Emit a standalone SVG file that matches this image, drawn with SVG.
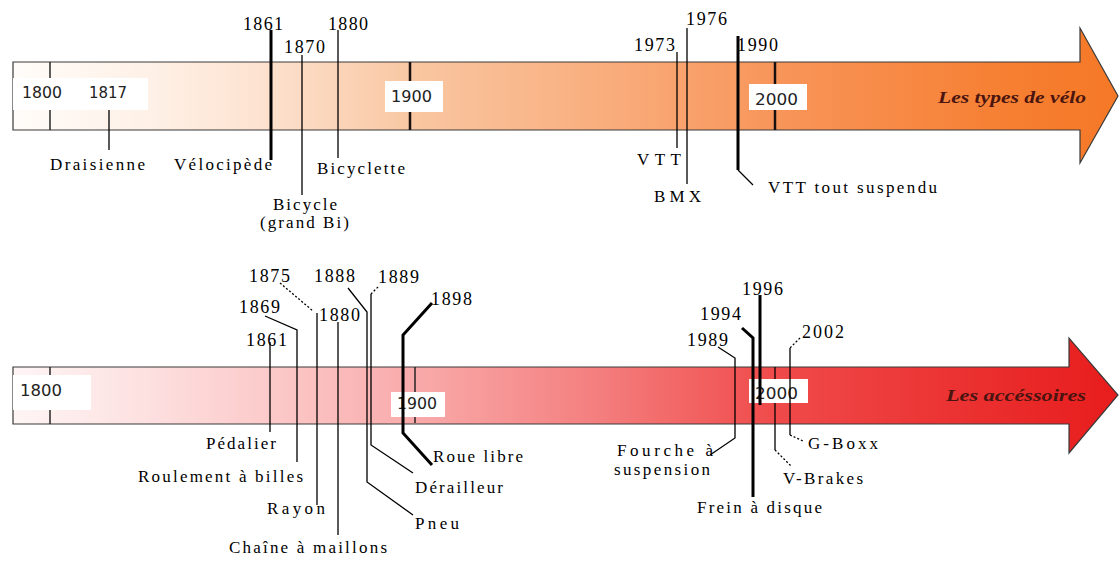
<svg xmlns="http://www.w3.org/2000/svg" width="1119" height="561" viewBox="0 0 1119 561">
<defs>
<linearGradient id="gTop" gradientUnits="userSpaceOnUse" x1="13" y1="0" x2="1119" y2="0">
<stop offset="0" stop-color="#fffcf9"/>
<stop offset="0.12" stop-color="#fef1e7"/>
<stop offset="0.22" stop-color="#fde3d1"/>
<stop offset="0.36" stop-color="#f9c7a2"/>
<stop offset="0.53" stop-color="#f9ae7e"/>
<stop offset="0.69" stop-color="#f8955a"/>
<stop offset="0.9" stop-color="#f67f32"/>
<stop offset="1" stop-color="#f57826"/>
</linearGradient>
<linearGradient id="gBot" gradientUnits="userSpaceOnUse" x1="13" y1="0" x2="1119" y2="0">
<stop offset="0" stop-color="#fff5f5"/>
<stop offset="0.12" stop-color="#fde0e0"/>
<stop offset="0.23" stop-color="#fccaca"/>
<stop offset="0.36" stop-color="#f9abab"/>
<stop offset="0.53" stop-color="#f47e7e"/>
<stop offset="0.69" stop-color="#f04a4a"/>
<stop offset="0.9" stop-color="#ea2b2b"/>
<stop offset="1" stop-color="#e81c1c"/>
</linearGradient>
<style>
.arrow{stroke:#3a3a3a;stroke-width:1.2}
.tick{stroke:#1a1a1a;stroke-width:1.4;fill:none}
.tk{stroke:#1a1010;stroke-width:2.5;fill:none}
.wb{fill:#ffffff}
.bx{font-family:"DejaVu Sans","Liberation Sans",sans-serif;font-size:15px;fill:#222}
.l{stroke:#000;stroke-width:1.3;fill:none}
.t{stroke-width:3}
.d{stroke-dasharray:2 2}
.lab{font-family:"Liberation Serif","Times New Roman",serif;font-size:17px;fill:#000}
.yr{font-family:"Liberation Serif","Times New Roman",serif;font-size:18px;fill:#000}
.ttl{font-family:"Liberation Serif","Times New Roman",serif;font-size:16px;font-weight:bold;font-style:italic;fill:#4a1410}
</style>
</defs>
<rect width="1119" height="561" fill="#ffffff"/>

<g id="timeline-types">
<polygon class="arrow" fill="url(#gTop)" points="13,62 1080,62 1080,28 1118,96 1080,163 1080,130 13,130"/>
<rect class="wb" x="13" y="78" width="135" height="32"/>
<line class="tick" x1="50" y1="62" x2="50" y2="78"/>
<line class="tick" x1="50" y1="110" x2="50" y2="130"/>
<line class="tk" x1="410" y1="62" x2="410" y2="81"/>
<line class="tk" x1="410" y1="112" x2="410" y2="130"/>
<line class="tk" x1="775" y1="62" x2="775" y2="84"/>
<line class="tk" x1="775" y1="110" x2="775" y2="130"/>
<text class="bx" x="22" y="98" textLength="40" lengthAdjust="spacingAndGlyphs">1800</text>
<rect class="wb" x="385" y="81" width="58" height="31"/>
<text class="bx" x="391" y="102" textLength="41" lengthAdjust="spacingAndGlyphs">1900</text>
<rect class="wb" x="749" y="84" width="58" height="26"/>
<text class="bx" x="755" y="105" textLength="43" lengthAdjust="spacingAndGlyphs">2000</text>
<text class="ttl" x="938" y="103" textLength="148" lengthAdjust="spacingAndGlyphs">Les types de vélo</text>
</g>

<g id="timeline-accessoires">
<polygon class="arrow" fill="url(#gBot)" points="13,367 1069,367 1069,338 1118,395 1069,453 1069,424 13,424"/>
<rect class="wb" x="13" y="375" width="78" height="35"/>
<line class="tick" x1="50" y1="367" x2="50" y2="375"/>
<line class="tick" x1="50" y1="410" x2="50" y2="424"/>
<line class="tick" x1="415" y1="367" x2="415" y2="392"/>
<line class="tick" x1="415" y1="417" x2="415" y2="423"/>
<text class="bx" x="20" y="396" textLength="42" lengthAdjust="spacingAndGlyphs">1800</text>
<rect class="wb" x="391" y="392" width="54" height="25"/>
<text class="bx" x="397" y="409" textLength="40" lengthAdjust="spacingAndGlyphs">1900</text>
<rect class="wb" x="749" y="379" width="59" height="24"/>
<text class="bx" x="755" y="399" textLength="43" lengthAdjust="spacingAndGlyphs">2000</text>
<text class="ttl" x="946" y="401" textLength="140" lengthAdjust="spacingAndGlyphs">Les accéssoires</text>
</g>

<g id="connectors">
<line class="l" x1="109" y1="110" x2="109" y2="150"/>
<line class="l t" x1="271" y1="30" x2="271" y2="160"/>
<line class="l" x1="302" y1="55" x2="302" y2="195"/>
<line class="l" x1="338" y1="30" x2="338" y2="158"/>
<line class="l" x1="677" y1="52" x2="677" y2="148"/>
<line class="l" x1="687" y1="28" x2="687" y2="184"/>
<polyline class="l t" points="738,36 738,170"/>
<polyline class="l" points="738,170 753,185"/>
<line class="l" x1="270" y1="342" x2="270" y2="432"/>
<polyline class="l" points="265,316 297,330 297,462"/>
<line class="l d" x1="280" y1="283" x2="313" y2="311"/>
<line class="l" x1="317" y1="313" x2="317" y2="505"/>
<line class="l" x1="338" y1="322" x2="338" y2="535"/>
<polyline class="l" points="348,288 367,312 367,482 413,515"/>
<line class="l d" x1="378" y1="287" x2="371" y2="294"/>
<polyline class="l" points="371,294 371,445 413,473"/>
<polyline class="l t" points="432,303 403,335 403,433 432,465"/>
<polyline class="l" points="718,347 735,358 735,438 710,455"/>
<polyline class="l t" points="742,328 753,338 753,497"/>
<line class="l t" x1="760" y1="295" x2="760" y2="405"/>
<line class="l" x1="775" y1="367" x2="775" y2="379"/>
<line class="l" x1="775" y1="403" x2="775" y2="450"/>
<line class="l d" x1="775" y1="450" x2="792" y2="467"/>
<line class="l d" x1="800" y1="338" x2="790" y2="348"/>
<line class="l" x1="790" y1="348" x2="790" y2="435"/>
<line class="l d" x1="790" y1="435" x2="803" y2="441"/>
</g>

<g id="ev-1817"><text class="bx" x="89" y="98" textLength="38" lengthAdjust="spacingAndGlyphs">1817</text><text class="lab" x="50" y="170" textLength="95" lengthAdjust="spacing">Draisienne</text></g>
<g id="ev-1861-velocipede"><text class="yr" x="243" y="30" textLength="40" lengthAdjust="spacing">1861</text><text class="lab" x="174" y="170" textLength="98" lengthAdjust="spacing">Vélocipède</text></g>
<g id="ev-1870"><text class="yr" x="284" y="53" textLength="41" lengthAdjust="spacing">1870</text><text class="lab" x="273" y="210" textLength="64" lengthAdjust="spacing">Bicycle</text><text class="lab" x="260" y="228" textLength="89" lengthAdjust="spacing">(grand Bi)</text></g>
<g id="ev-1880-bicyclette"><text class="yr" x="328" y="30" textLength="40" lengthAdjust="spacing">1880</text><text class="lab" x="317" y="174" textLength="88" lengthAdjust="spacing">Bicyclette</text></g>
<g id="ev-1973"><text class="yr" x="634" y="51" textLength="41" lengthAdjust="spacing">1973</text><text class="lab" x="637" y="165" textLength="44" lengthAdjust="spacing">VTT</text></g>
<g id="ev-1976"><text class="yr" x="686" y="25" textLength="41" lengthAdjust="spacing">1976</text><text class="lab" x="654" y="202" textLength="47" lengthAdjust="spacing">BMX</text></g>
<g id="ev-1990"><text class="yr" x="737" y="51" textLength="41" lengthAdjust="spacing">1990</text><text class="lab" x="768" y="193" textLength="169" lengthAdjust="spacing">VTT tout suspendu</text></g>

<g id="ev-1861-pedalier"><text class="yr" x="246" y="346" textLength="41" lengthAdjust="spacing">1861</text><text class="lab" x="206" y="449" textLength="70" lengthAdjust="spacing">Pédalier</text></g>
<g id="ev-1869"><text class="yr" x="239" y="313" textLength="41" lengthAdjust="spacing">1869</text><text class="lab" x="138" y="482" textLength="165" lengthAdjust="spacing">Roulement à billes</text></g>
<g id="ev-1875"><text class="yr" x="249" y="282" textLength="41" lengthAdjust="spacing">1875</text><text class="lab" x="267" y="514" textLength="58" lengthAdjust="spacing">Rayon</text></g>
<g id="ev-1880-chaine"><text class="yr" x="319" y="321" textLength="41" lengthAdjust="spacing">1880</text><text class="lab" x="229" y="553" textLength="158" lengthAdjust="spacing">Chaîne à maillons</text></g>
<g id="ev-1888"><text class="yr" x="314" y="282" textLength="41" lengthAdjust="spacing">1888</text><text class="lab" x="415" y="529" textLength="44" lengthAdjust="spacing">Pneu</text></g>
<g id="ev-1889"><text class="yr" x="378" y="283" textLength="41" lengthAdjust="spacing">1889</text><text class="lab" x="415" y="493" textLength="88" lengthAdjust="spacing">Dérailleur</text></g>
<g id="ev-1898"><text class="yr" x="431" y="305" textLength="41" lengthAdjust="spacing">1898</text><text class="lab" x="433" y="462" textLength="90" lengthAdjust="spacing">Roue libre</text></g>
<g id="ev-1989"><text class="yr" x="687" y="346" textLength="41" lengthAdjust="spacing">1989</text><text class="lab" x="617" y="456" textLength="96" lengthAdjust="spacing">Fourche à</text><text class="lab" x="614" y="475" textLength="96" lengthAdjust="spacing">suspension</text></g>
<g id="ev-1994"><text class="yr" x="700" y="320" textLength="41" lengthAdjust="spacing">1994</text><text class="lab" x="697" y="513" textLength="125" lengthAdjust="spacing">Frein à disque</text></g>
<g id="ev-1996"><text class="yr" x="742" y="295" textLength="41" lengthAdjust="spacing">1996</text><text class="lab" x="783" y="484" textLength="80" lengthAdjust="spacing">V-Brakes</text></g>
<g id="ev-2002"><text class="yr" x="802" y="338" textLength="42" lengthAdjust="spacing">2002</text><text class="lab" x="808" y="449" textLength="70" lengthAdjust="spacing">G-Boxx</text></g>
</svg>
